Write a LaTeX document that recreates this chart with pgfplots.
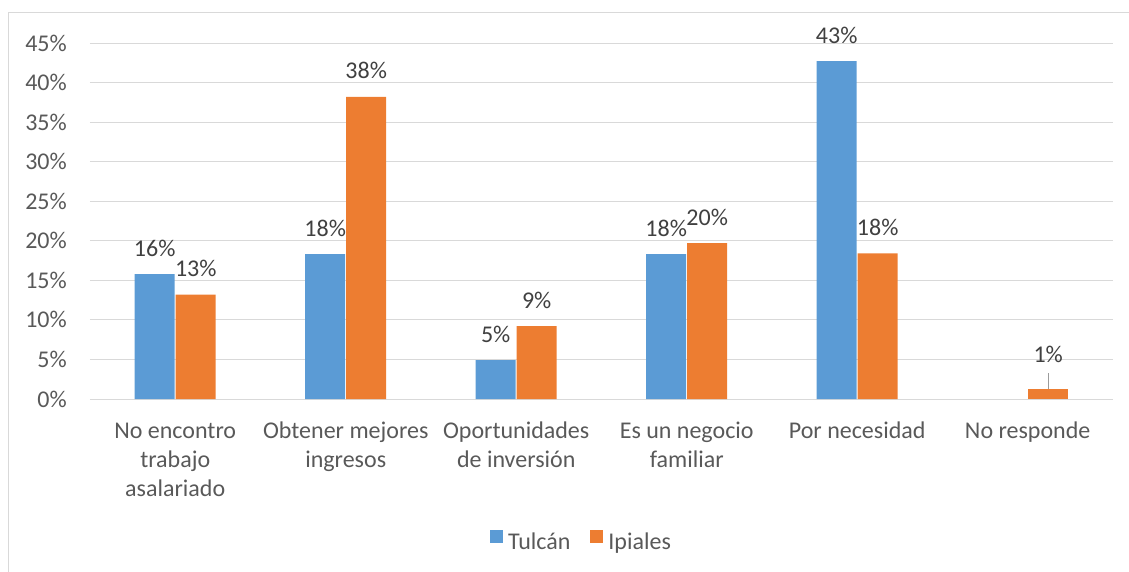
\documentclass[border=0pt]{standalone}
\usepackage{pgfplots}
\pgfplotsset{compat=1.18}
\usepackage{fontspec}
\setmainfont{Carlito}
\definecolor{cblue}{HTML}{5B9BD5}
\definecolor{corange}{HTML}{ED7D31}
\definecolor{cgrid}{HTML}{D9D9D9}
\definecolor{ctext}{HTML}{595959}
\definecolor{clabel}{HTML}{404040}
\begin{document}
\fontsize{24}{29}\selectfont
\begin{tikzpicture}[x=1pt,y=1pt]
\useasboundingbox (-90,-172) rectangle (1039,399);
\draw[cgrid, line width=1pt] (-81,-180) -- (-81,386) -- (1045,386);
\begin{axis}[
  at={(0,0)}, anchor=south west,
  scale only axis, width=1023pt, height=356pt,
  xmin=-0.5, xmax=5.5, ymin=0, ymax=45,
  axis line style={draw=none},
  major tick length=0pt,
  ymajorgrids, grid style={cgrid, line width=1pt},
  ytick={0,5,...,45},
  yticklabels={0\%,5\%,10\%,15\%,20\%,25\%,30\%,35\%,40\%,45\%},
  yticklabel style={anchor=east, inner sep=0pt, xshift=-23pt, text=ctext},
  xtick={0,...,5},
  xticklabels={{\strut No encontro\\trabajo\\asalariado},{\strut Obtener mejores\\ingresos},{\strut Oportunidades\\de inversión},{\strut Es un negocio\\familiar},{\strut Por necesidad},{\strut No responde}},
  xticklabel style={align=center, anchor=north, inner sep=0pt, yshift=-18.7pt, text=ctext},
  ybar, bar width=40pt,
  nodes near coords,
  point meta=explicit symbolic,
  every node near coord/.append style={anchor=base, inner sep=0pt, yshift=18pt, text=clabel},
  legend columns=2,
  legend style={at={(0.4795,-0.4017)}, anchor=center, draw=none, fill=none,
    nodes={inner sep=0pt, text=ctext},
    /tikz/every odd column/.append style={column sep=5pt},
    /tikz/every even column/.append style={column sep=20pt}},
  legend image code/.code={\fill[#1] (0pt,0pt) rectangle (13pt,13pt);},
]
\addplot[fill=cblue, draw=none, bar shift=-20.5pt] coordinates {
  (0,15.8) [16\%]
  (1,18.3) [18\%]
  (2,4.9) [5\%]
  (3,18.3) [18\%]
  (4,42.7) [43\%]
};
\addlegendentry{Tulcán}
\addplot[fill=corange, draw=none, bar shift=20.5pt] coordinates {
  (0,13.2) [13\%]
  (1,38.2) [38\%]
  (2,9.2) [9\%]
  (3,19.7) [20\%]
  (4,18.4) [18\%]
};
\addlegendentry{Ipiales}
\addplot[fill=corange, draw=none, bar shift=20.5pt, forget plot,
  every node near coord/.append style={yshift=8pt}] coordinates {
  (5,1.3) [1\%]
};
\draw[color=ctext!60, line width=1pt] ([xshift=20.5pt]axis cs:5,1.3) -- ([xshift=20.5pt]axis cs:5,3.3);
\end{axis}
\end{tikzpicture}
\end{document}
